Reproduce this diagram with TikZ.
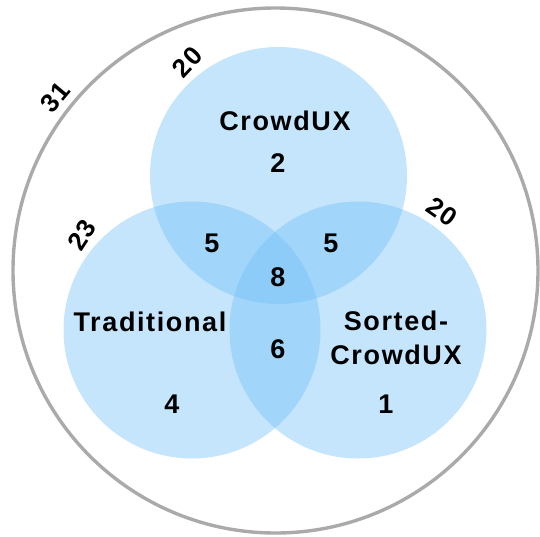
\documentclass[tikz,border=0pt]{standalone}
\usepackage{fontspec}
\setmainfont{Liberation Sans}[LetterSpace=6]
\begin{document}
\begin{tikzpicture}[x=1pt,y=-1pt,
  set/.style={circle, inner sep=0pt, minimum size=257pt, fill=setblue, fill opacity=0.4},
  lbl/.style={font=\fontsize{27}{34}\selectfont\bfseries, text=black, align=center, inner sep=0pt},
  tot/.style={lbl, font=\fontsize{26}{28}\selectfont\bfseries}]
\definecolor{setblue}{RGB}{110,190,247}
\definecolor{ringgray}{RGB}{170,170,170}
\useasboundingbox (0,0) rectangle (540,536);
% universe ring
\node[circle, inner sep=0pt, minimum size=525pt, draw=ringgray, line width=3.4pt] (all) at (275.5,270.5) {};
% the three sets
\node[set] (crowd) at (278.5,175.5) {};
\node[set] (trad) at (192,330) {};
\node[set] (sorted) at (358,330) {};
% set names and region counts
\node[lbl] (ncrowd) at (285,121) {CrowdUX};
\node[lbl] (ntrad) at (150,322) {Traditional};
\node[lbl] (nsorted) at (396,338) {Sorted-\\CrowdUX};
\node[lbl] (c2) at (278,163) {2};
\node[lbl] (c4) at (172,404) {4};
\node[lbl] (c1) at (386,404) {1};
\node[lbl] (ct) at (212,243) {5};
\node[lbl] (cs) at (331,243) {5};
\node[lbl] (call) at (278,277) {8};
\node[lbl] (cts) at (278,349) {6};
% totals along the rims
\node[tot, rotate=50] (t31) at (55,97) {31};
\node[tot, rotate=47] (t20a) at (187,62) {20};
\node[tot, rotate=57] (t23) at (82,235) {23};
\node[tot, rotate=-35] (t20b) at (442,212) {20};
\end{tikzpicture}
\end{document}
